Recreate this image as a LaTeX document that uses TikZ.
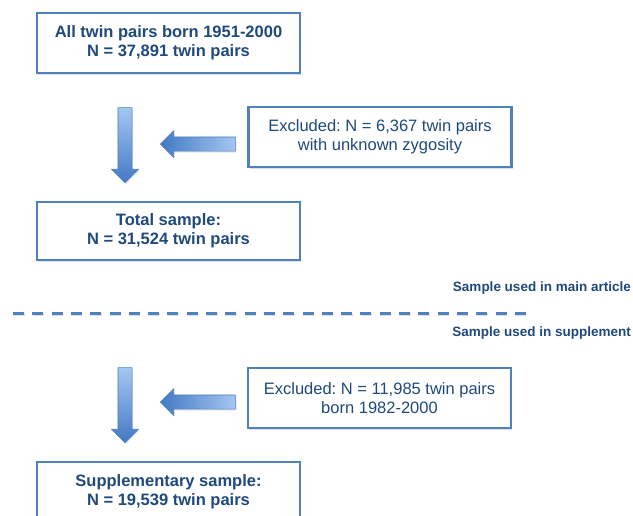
\documentclass[tikz,border=0pt]{standalone}
\usepackage{fontspec}
\setmainfont{Liberation Sans}
\frenchspacing
\usepackage{tikz}
\usetikzlibrary{calc}
\usetikzlibrary{shapes}
\usetikzlibrary{shapes.arrows}
\usetikzlibrary{shadows}
\definecolor{boxblue}{HTML}{4F81BD}
\definecolor{textblue}{HTML}{1F497D}
\definecolor{arrowlight}{HTML}{A4C6F2}
\definecolor{arrowdark}{HTML}{4479C4}
\definecolor{arrowedge}{HTML}{4A7EC0}

\begin{document}
\begin{tikzpicture}[x=1pt,y=-1pt,
    stagebox/.style={draw=boxblue, line width=2.6pt, fill=white, text=textblue, align=center,
        minimum width=263pt, minimum height=60pt, inner sep=0pt,
        font=\fontsize{16.5}{19}\selectfont,
        drop shadow={shadow xshift=1pt,shadow yshift=-1.5pt,opacity=.25}},
    blockarrow/.style={single arrow, draw=arrowedge, line width=.6pt, inner sep=6.75pt,
        minimum height=75pt, minimum width=26pt, single arrow head extend=6.25pt,
        drop shadow={shadow xshift=1pt,shadow yshift=-1.5pt,opacity=.2}},
    downarrow/.style={blockarrow, shape border rotate=270, top color=arrowlight, bottom color=arrowdark},
    leftarrow/.style={blockarrow, shape border rotate=180, left color=arrowdark, right color=arrowlight},
    sidelabel/.style={anchor=east, inner sep=0pt, text=textblue, font=\bfseries\fontsize{13.5}{16}\selectfont}]
    \path[use as bounding box, clip] (0,0) rectangle (633,515);

    % main article part
    \node (all) [stagebox, font=\bfseries\fontsize{16.5}{19}\selectfont] at (168.5,43) {All twin pairs born 1951-2000\\N = 37,891 twin pairs};
    \node (excl1) [stagebox] at (380,137) {Excluded: N = 6,367 twin pairs\\with unknown zygosity};
    \node (total) [stagebox, minimum height=58pt, font=\bfseries\fontsize{16.5}{19}\selectfont] at (168.5,231) {Total sample:\\N = 31,524 twin pairs};
    \node (dn1) [downarrow, anchor=tip] at (125,183) {};
    \node (lt1) [leftarrow, anchor=tip] at (160,144) {};

    % split between the two samples
    \coordinate (splitL) at (13,313);
    \coordinate (splitR) at (528,313);
    \draw[black!12, line width=3pt, dash pattern=on 11pt off 8.3pt] ($(splitL)+(0.5,1.8)$) -- ($(splitR)+(0.5,1.8)$);
    \draw[boxblue, line width=3pt, dash pattern=on 11pt off 8.3pt] (splitL) -- (splitR);
    \node (mainlab) [sidelabel] at (631,288) {Sample used in main article};
    \node (supplab) [sidelabel] at (631,333) {Sample used in supplement};

    % supplement part
    \node (excl2) [stagebox] at (379.5,398) {Excluded: N = 11,985 twin pairs\\born 1982-2000};
    \node (supp) [stagebox, font=\bfseries\fontsize{16.5}{19}\selectfont] at (168.5,492) {Supplementary sample:\\N = 19,539 twin pairs};
    \node (dn2) [downarrow, anchor=tip] at (125,443) {};
    \node (lt2) [leftarrow, anchor=tip] at (160,402) {};
\end{tikzpicture}
\end{document}
